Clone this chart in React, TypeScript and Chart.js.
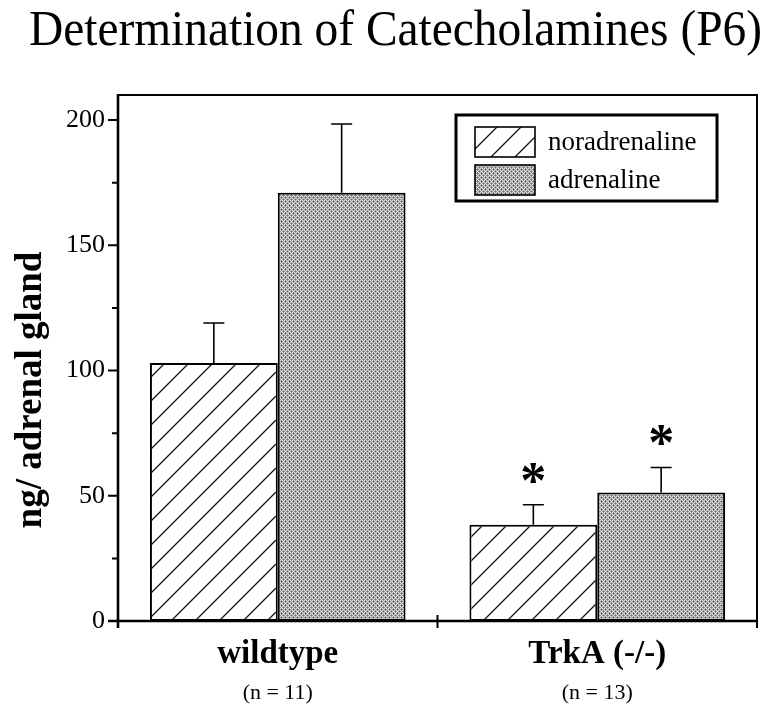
import React, { useEffect, useRef } from "react";
import { Chart, registerables } from "chart.js";

Chart.register(...registerables);

const TITLE = "Determination of Catecholamines (P6)";
const Y_LABEL = "ng/ adrenal gland";
const CATEGORIES = ["wildtype", "TrkA (-/-)"];
const GROUP_N = ["(n = 11)", "(n = 13)"];
const SERIES_NAMES = ["noradrenaline", "adrenaline"];
const NORADRENALINE = [103, 38.4];
const ADRENALINE = [171, 51.3];
const NORADRENALINE_ERR = [16, 8];
const ADRENALINE_ERR = [27.4, 10];
const SIGNIFICANT = [
  [false, true],
  [false, true],
];
const Y_TICKS = [0, 50, 100, 150, 200];
const Y_MINOR = [25, 75, 125, 175];
const Y_MAX = 210;

const FONT = "'Liberation Serif', 'DejaVu Serif', serif";

function makeHatch(): CanvasPattern | string {
  const c = document.createElement("canvas");
  const s = 24;
  c.width = s;
  c.height = s;
  const g = c.getContext("2d");
  if (!g) return "#fff";
  g.fillStyle = "#fff";
  g.fillRect(0, 0, s, s);
  g.strokeStyle = "#111";
  g.lineWidth = 1.3;
  g.beginPath();
  g.moveTo(-2, s + 2);
  g.lineTo(s + 2, -2);
  g.moveTo(-2 - s, s + 2);
  g.lineTo(2, -2);
  g.moveTo(s - 2, s + 2);
  g.lineTo(s + 2 + s, -2);
  g.stroke();
  const p = g.createPattern(c, "repeat");
  return p || "#fff";
}

function makeDots(): CanvasPattern | string {
  const c = document.createElement("canvas");
  const s = 4;
  c.width = s;
  c.height = s;
  const g = c.getContext("2d");
  if (!g) return "#aaa";
  const light = "#dedede";
  const mid = "#959595";
  const dark = "#505050";
  const grid = [
    [light, mid, light, mid],
    [mid, dark, mid, light],
    [light, mid, light, mid],
    [mid, light, mid, "#707070"],
  ];
  for (let y = 0; y < s; y++) {
    for (let x = 0; x < s; x++) {
      g.fillStyle = grid[y][x];
      g.fillRect(x, y, 1, 1);
    }
  }
  const p = g.createPattern(c, "repeat");
  return p || "#aaa";
}

export default function App() {
  const ref = useRef<HTMLCanvasElement | null>(null);

  useEffect(() => {
    if (!ref.current) return;
    const hatch = makeHatch();
    const dots = makeDots();
    const fills = [hatch, dots];
    const errs = [NORADRENALINE_ERR, ADRENALINE_ERR];

    const overlay = {
      id: "overlay",
      afterDraw(chart: any) {
        const ctx = chart.ctx as CanvasRenderingContext2D;
        const area = chart.chartArea;
        const ys = chart.scales.y;
        const xs = chart.scales.x;
        ctx.save();

        // Title (condensed)
        ctx.font = `50px ${FONT}`;
        ctx.fillStyle = "#000";
        ctx.textAlign = "left";
        ctx.textBaseline = "alphabetic";
        const tw = ctx.measureText(TITLE).width;
        const target = 733;
        ctx.save();
        ctx.translate(29, 45);
        ctx.scale(target / tw, 1);
        ctx.fillText(TITLE, 0, 0);
        ctx.restore();

        // Frame top/right
        ctx.strokeStyle = "#000";
        ctx.lineWidth = 2;
        ctx.beginPath();
        ctx.moveTo(area.left, area.top);
        ctx.lineTo(area.right, area.top);
        ctx.lineTo(area.right, area.bottom + 7);
        ctx.stroke();

        // Axes
        ctx.lineWidth = 2.6;
        ctx.beginPath();
        ctx.moveTo(area.left, area.top - 1);
        ctx.lineTo(area.left, area.bottom + 7);
        ctx.moveTo(area.left - 10, area.bottom);
        ctx.lineTo(area.right + 1, area.bottom);
        ctx.stroke();

        // Y ticks
        ctx.lineWidth = 2;
        ctx.beginPath();
        for (const v of Y_TICKS) {
          const y = ys.getPixelForValue(v);
          ctx.moveTo(area.left - 10, y);
          ctx.lineTo(area.left, y);
        }
        for (const v of Y_MINOR) {
          const y = ys.getPixelForValue(v);
          ctx.moveTo(area.left - 6, y);
          ctx.lineTo(area.left, y);
        }
        // X middle tick
        const mid = (xs.getPixelForValue(0) + xs.getPixelForValue(1)) / 2;
        ctx.moveTo(mid, area.bottom - 6);
        ctx.lineTo(mid, area.bottom + 7);
        ctx.stroke();

        // Y label
        ctx.save();
        ctx.translate(41, 390);
        ctx.rotate(-Math.PI / 2);
        ctx.font = `bold 37px ${FONT}`;
        ctx.textAlign = "center";
        ctx.textBaseline = "alphabetic";
        ctx.fillText(Y_LABEL, 0, 0);
        ctx.restore();

        // X labels
        ctx.textAlign = "center";
        for (let i = 0; i < CATEGORIES.length; i++) {
          const x = xs.getPixelForValue(i);
          ctx.font = `bold 33px ${FONT}`;
          ctx.fillText(CATEGORIES[i], x, 663);
          ctx.font = `22px ${FONT}`;
          ctx.fillText(GROUP_N[i], x, 699);
        }

        // Error bars and asterisks
        ctx.lineWidth = 1.6;
        for (let d = 0; d < 2; d++) {
          const meta = chart.getDatasetMeta(d);
          meta.data.forEach((bar: any, i: number) => {
            const val = chart.data.datasets[d].data[i] as number;
            const topY = ys.getPixelForValue(val);
            const errY = ys.getPixelForValue(val + errs[d][i]);
            ctx.beginPath();
            ctx.moveTo(bar.x, topY);
            ctx.lineTo(bar.x, errY);
            ctx.moveTo(bar.x - 10.5, errY);
            ctx.lineTo(bar.x + 10.5, errY);
            ctx.stroke();
            if (SIGNIFICANT[d][i]) {
              ctx.font = `bold 52px ${FONT}`;
              ctx.textAlign = "center";
              ctx.textBaseline = "alphabetic";
              ctx.fillText("*", bar.x, errY - 7);
            }
          });
        }

        // Legend
        const lx = 456, ly = 115, lw = 261, lh = 86;
        ctx.lineWidth = 3;
        ctx.strokeRect(lx, ly, lw, lh);
        const sw = [
          { y: 127, fill: hatch },
          { y: 165, fill: dots },
        ];
        sw.forEach((s, k) => {
          ctx.fillStyle = s.fill as any;
          ctx.fillRect(475, s.y, 60, 30);
          ctx.lineWidth = 1.6;
          ctx.strokeStyle = "#000";
          ctx.strokeRect(475, s.y, 60, 30);
          ctx.fillStyle = "#000";
          ctx.font = `27px ${FONT}`;
          ctx.textAlign = "left";
          ctx.textBaseline = "alphabetic";
          ctx.fillText(SERIES_NAMES[k], 548, s.y + 23);
        });

        ctx.restore();
      },
    };

    const chart = new Chart(ref.current, {
      type: "bar",
      data: {
        labels: CATEGORIES,
        datasets: [
          {
            label: SERIES_NAMES[0],
            data: NORADRENALINE,
            backgroundColor: fills[0] as any,
            borderColor: "#000",
            borderWidth: 2,
            borderSkipped: false,
          },
          {
            label: SERIES_NAMES[1],
            data: ADRENALINE,
            backgroundColor: fills[1] as any,
            borderColor: "#000",
            borderWidth: 2,
            borderSkipped: false,
          },
        ],
      },
      options: {
        animation: false,
        responsive: false,
        maintainAspectRatio: false,
        layout: { padding: { top: 95, right: 11, left: 0, bottom: 0 } },
        datasets: {
          bar: { categoryPercentage: 0.8, barPercentage: 1.0 },
        },
        plugins: {
          legend: { display: false },
          title: { display: false },
          tooltip: { enabled: false },
        },
        scales: {
          x: {
            type: "category",
            grid: { display: false, drawTicks: false },
            border: { display: false },
            ticks: { display: false },
            afterFit: (s: any) => {
              s.height = 84;
            },
          },
          y: {
            min: 0,
            max: Y_MAX,
            grid: { display: false, drawTicks: false },
            border: { display: false },
            afterBuildTicks: (s: any) => {
              s.ticks = Y_TICKS.map((v) => ({ value: v }));
            },
            ticks: {
              padding: 13,
              color: "#000",
              font: { family: FONT, size: 26 },
            },
            afterFit: (s: any) => {
              s.width = 118;
            },
          },
        },
      },
      plugins: [overlay],
    });
    return () => chart.destroy();
  }, []);

  return (
    <div style={{ position: "fixed", left: 0, top: 0, width: 768, height: 705, background: "#fff" }}>
      <canvas ref={ref} width={768} height={705} style={{ width: 768, height: 705, display: "block" }} />
    </div>
  );
}
